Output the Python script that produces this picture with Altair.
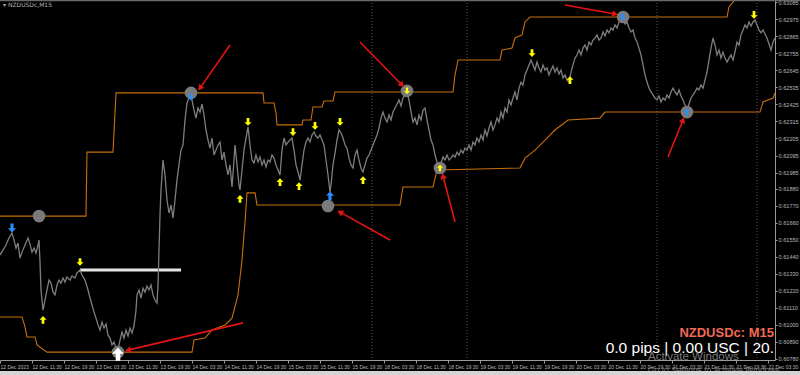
import altair as alt
import pandas as pd
import numpy as np

# ---------------- data ----------------
time_labels = ["12 Dec 2023", "12 Dec 11:30", "12 Dec 19:30", "13 Dec 03:30", "13 Dec 11:30",
               "13 Dec 19:30", "14 Dec 03:30", "14 Dec 11:30", "14 Dec 19:30", "15 Dec 03:30",
               "15 Dec 11:30", "15 Dec 19:30", "18 Dec 03:30", "18 Dec 11:30", "18 Dec 19:30",
               "19 Dec 03:30", "19 Dec 11:30", "19 Dec 19:30", "20 Dec 03:30", "20 Dec 11:30",
               "20 Dec 19:30", "21 Dec 03:30", "21 Dec 11:30", "21 Dec 19:30", "22 Dec 03:30"]
time_ticks = [32 * i for i in range(len(time_labels))]

price_ticks = [0.63085, 0.62975, 0.62865, 0.62755, 0.62645, 0.62535, 0.62425, 0.62315, 0.62205,
               0.62095, 0.61985, 0.61880, 0.61770, 0.61660, 0.61550, 0.61440, 0.61330, 0.61220,
               0.61110, 0.61000, 0.60890, 0.60780]

# close price per bar (bar index, price)
price_points = [
    (0, 0.61451), (3, 0.61483), (6, 0.61516), (9, 0.61561), (12, 0.61594), (14, 0.61548), (16, 0.61496),
    (18, 0.61529), (20, 0.61431), (22, 0.61470), (25, 0.61516), (28, 0.61561), (30, 0.61522), (32, 0.61470),
    (34, 0.61496), (36, 0.61464), (38, 0.61516), (39, 0.61548),
    (40, 0.61406), (41, 0.61225), (42, 0.61160), (43, 0.61095), (45, 0.61160), (47, 0.61225), (49, 0.61289),
    (51, 0.61270), (53, 0.61212), (55, 0.61193), (57, 0.61257), (59, 0.61289), (61, 0.61270), (63, 0.61302),
    (65, 0.61276), (67, 0.61309), (70, 0.61289), (72, 0.61315), (75, 0.61302), (77, 0.61335), (80, 0.61354),
    (82, 0.61322), (85, 0.61289), (88, 0.61225), (90, 0.61173), (92, 0.61128), (94, 0.61082), (96, 0.61043),
    (98, 0.60999), (100, 0.60966), (102, 0.61018), (104, 0.60979), (106, 0.61005), (108, 0.60934),
    (110, 0.60914), (112, 0.60869), (114, 0.60888), (116, 0.60849), (118, 0.60836), (120, 0.60901),
    (122, 0.60953), (124, 0.60914), (126, 0.60966), (128, 0.60927), (130, 0.60979), (132, 0.60947),
    (134, 0.60992), (136, 0.61095), (137, 0.61193), (139, 0.61225), (141, 0.61173), (143, 0.61237),
    (145, 0.61212), (147, 0.61250), (149, 0.61225), (151, 0.61257), (153, 0.61193), (155, 0.61160),
    (157, 0.61141), (158, 0.61257), (159, 0.61483), (160, 0.61710), (161, 0.61872), (163, 0.62066),
    (165, 0.61969), (167, 0.61807), (169, 0.61723), (171, 0.61775), (173, 0.61690), (175, 0.61807),
    (177, 0.61936), (179, 0.62034), (181, 0.62130), (183, 0.62163), (185, 0.62325), (187, 0.62435),
    (189, 0.62467), (190, 0.62500), (192, 0.62454), (194, 0.62389), (196, 0.62337), (198, 0.62402),
    (200, 0.62376), (202, 0.62428), (204, 0.62357), (206, 0.62260), (208, 0.62195), (210, 0.62143),
    (212, 0.62208), (214, 0.62098), (216, 0.62130), (218, 0.62163), (220, 0.62182), (222, 0.62066),
    (224, 0.62117), (226, 0.62034), (228, 0.61969), (230, 0.62034), (232, 0.61891), (234, 0.62066),
    (235, 0.62163), (237, 0.62034), (239, 0.61904), (240, 0.61872), (242, 0.62001), (244, 0.62130),
    (246, 0.62208), (248, 0.62280), (250, 0.62163), (252, 0.62066), (254, 0.62047), (256, 0.62098),
    (258, 0.62053), (260, 0.62085), (262, 0.62034), (264, 0.62066), (266, 0.62021), (268, 0.62066),
    (270, 0.62053), (272, 0.62098), (274, 0.62078), (276, 0.62034), (278, 0.62001), (280, 0.61969),
    (282, 0.62130), (284, 0.62208), (286, 0.62163), (288, 0.62182), (290, 0.62195), (292, 0.62208),
    (294, 0.62130), (296, 0.62034), (298, 0.61988), (300, 0.61936), (302, 0.62034), (304, 0.62130),
    (306, 0.62182), (308, 0.62208), (310, 0.62182), (312, 0.62228), (314, 0.62247), (316, 0.62221),
    (318, 0.62208), (320, 0.62228), (322, 0.62195), (324, 0.62163), (326, 0.62066), (328, 0.61969),
    (330, 0.61859), (331, 0.61904), (333, 0.62034), (335, 0.62111), (337, 0.62195), (339, 0.62260),
    (341, 0.62241), (343, 0.62208), (345, 0.62163), (347, 0.62143), (349, 0.62078), (351, 0.62034),
    (353, 0.62014), (355, 0.62098), (357, 0.62130), (359, 0.62066), (361, 0.62014), (363, 0.61988),
    (365, 0.62034), (367, 0.62078), (369, 0.62098), (371, 0.62130), (373, 0.62163), (375, 0.62195),
    (377, 0.62228), (379, 0.62273), (381, 0.62337), (383, 0.62376), (385, 0.62337), (387, 0.62312),
    (389, 0.62357), (391, 0.62325), (393, 0.62376), (395, 0.62402), (397, 0.62428), (399, 0.62454),
    (401, 0.62415), (403, 0.62467), (405, 0.62487), (407, 0.62506), (409, 0.62454), (411, 0.62376),
    (413, 0.62312), (415, 0.62337), (417, 0.62293), (419, 0.62357), (421, 0.62325), (423, 0.62389),
    (425, 0.62402), (427, 0.62325), (429, 0.62260), (431, 0.62195), (433, 0.62163), (435, 0.62098),
    (437, 0.62053), (439, 0.62014), (441, 0.62047), (443, 0.62085), (445, 0.62066), (447, 0.62098),
    (449, 0.62066), (451, 0.62078), (453, 0.62098), (455, 0.62085), (457, 0.62117), (459, 0.62098),
    (461, 0.62130), (463, 0.62111), (465, 0.62143), (467, 0.62130), (469, 0.62163), (471, 0.62130),
    (473, 0.62182), (475, 0.62163), (477, 0.62208), (479, 0.62182), (481, 0.62228), (483, 0.62195),
    (485, 0.62260), (487, 0.62221), (489, 0.62273), (491, 0.62312), (493, 0.62260), (495, 0.62293),
    (497, 0.62337), (499, 0.62312), (501, 0.62376), (503, 0.62337), (505, 0.62402), (507, 0.62376),
    (509, 0.62454), (511, 0.62422), (513, 0.62467), (515, 0.62506), (517, 0.62454), (519, 0.62531),
    (521, 0.62570), (523, 0.62551), (525, 0.62616), (527, 0.62648), (529, 0.62681), (531, 0.62713),
    (533, 0.62681), (535, 0.62648), (537, 0.62700), (539, 0.62661), (541, 0.62635), (543, 0.62681),
    (545, 0.62648), (547, 0.62661), (549, 0.62616), (551, 0.62648), (553, 0.62674), (555, 0.62635),
    (557, 0.62661), (559, 0.62622), (561, 0.62648), (563, 0.62596), (565, 0.62616), (567, 0.62583),
    (569, 0.62570), (571, 0.62635), (573, 0.62681), (575, 0.62725), (577, 0.62745), (579, 0.62777),
    (581, 0.62745), (583, 0.62790), (585, 0.62810), (587, 0.62777), (589, 0.62829), (591, 0.62810),
    (593, 0.62842), (595, 0.62855), (597, 0.62875), (599, 0.62842), (601, 0.62855), (603, 0.62894),
    (605, 0.62868), (607, 0.62907), (609, 0.62888), (611, 0.62920), (613, 0.62907), (615, 0.62940),
    (617, 0.62920), (619, 0.62959), (621, 0.62984), (623, 0.62972), (625, 0.62946), (627, 0.62959),
    (629, 0.62920), (631, 0.62894), (633, 0.62907), (635, 0.62855), (637, 0.62829), (639, 0.62790),
    (641, 0.62745), (643, 0.62681), (645, 0.62616), (647, 0.62570), (649, 0.62531), (651, 0.62506),
    (653, 0.62487), (655, 0.62467), (657, 0.62454), (659, 0.62480), (661, 0.62441), (663, 0.62467),
    (665, 0.62454), (667, 0.62487), (669, 0.62467), (671, 0.62506), (673, 0.62531), (675, 0.62506),
    (677, 0.62487), (679, 0.62519), (681, 0.62480), (683, 0.62454), (685, 0.62422), (687, 0.62389),
    (689, 0.62428), (691, 0.62467), (693, 0.62487), (695, 0.62506), (697, 0.62531), (699, 0.62519),
    (701, 0.62551), (703, 0.62531), (705, 0.62583), (707, 0.62635), (709, 0.62713), (711, 0.62790),
    (713, 0.62855), (715, 0.62810), (717, 0.62745), (719, 0.62777), (721, 0.62725), (723, 0.62764),
    (725, 0.62725), (727, 0.62700), (729, 0.62725), (731, 0.62745), (733, 0.62713), (735, 0.62764),
    (737, 0.62829), (739, 0.62810), (741, 0.62875), (743, 0.62907), (745, 0.62940), (747, 0.62920),
    (749, 0.62959), (751, 0.62933), (753, 0.62959), (755, 0.62972), (757, 0.62940), (759, 0.62907),
    (761, 0.62888), (763, 0.62907), (765, 0.62881), (767, 0.62855), (769, 0.62816), (771, 0.62777),
    (773, 0.62829), (775, 0.62855),
]
bar_x = [p[0] for p in price_points]
close = [p[1] for p in price_points]

# channel lines (orange)
upper_x = [0, 86, 87, 113, 116, 263, 264, 274, 276, 277, 302, 303, 311, 313, 322, 324, 333, 335,
           453, 455, 458, 500, 502, 512, 515, 522, 525, 530, 727, 729, 735]
upper_p = [0.61703, 0.61703, 0.62117, 0.62117, 0.62500, 0.62500, 0.62435, 0.62435, 0.62370, 0.62293,
           0.62293, 0.62325, 0.62325, 0.62409, 0.62409, 0.62448, 0.62448, 0.62506, 0.62506, 0.62616,
           0.62713, 0.62713, 0.62777, 0.62790, 0.62855, 0.62875, 0.62959, 0.62991, 0.62991, 0.63056,
           0.63101]
lower_x = [0, 22, 25, 27, 35, 37, 47, 192, 194, 205, 212, 225, 232, 238, 242, 245, 247, 255, 257,
           400, 403, 433, 437, 520, 525, 535, 545, 555, 568, 600, 605, 760, 763, 773, 775]
lower_p = [0.61050, 0.61050, 0.60986, 0.60921, 0.60921, 0.60869, 0.60823, 0.60823, 0.60901, 0.60914,
           0.60966, 0.60999, 0.61043, 0.61193, 0.61419, 0.61665, 0.61853, 0.61853, 0.61775, 0.61775,
           0.61891, 0.61891, 0.62001, 0.62014, 0.62078, 0.62130, 0.62195, 0.62260, 0.62325, 0.62337,
           0.62376, 0.62376, 0.62441, 0.62467, 0.62500]

# signal markers
circle_x = [39, 191, 328, 407, 440, 623, 687, 118]
circle_p = [0.61703, 0.62500, 0.61768, 0.62513, 0.62014, 0.62991, 0.62376, 0.60823]
blue_down_x = [12]
blue_down_p = [0.61626]
blue_down_in_x = [191, 623]
blue_down_in_p = [0.62474, 0.62991]
blue_up_x = [330]
blue_up_p = [0.61833]
blue_up_in_x = [687]
blue_up_in_p = [0.62376]
yellow_down_x = [80, 248, 293, 315, 340, 532, 754]
yellow_down_p = [0.61406, 0.62312, 0.62247, 0.62286, 0.62312, 0.62758, 0.63004]
yellow_down_in_x = [407]
yellow_down_in_p = [0.62513]
yellow_up_x = [43, 240, 280, 299, 363, 570]
yellow_up_p = [0.61031, 0.61814, 0.61923, 0.61897, 0.61936, 0.62583]
yellow_up_in_x = [440]
yellow_up_in_p = [0.62014]
white_up_x = [118]
white_up_p = [0.60810]

# white level line
level_x1, level_x2, level_p = [80], [181], [0.61354]

# red annotation arrows (start -> end)
red_x1 = [230, 360, 390, 455, 243, 565, 668]
red_p1 = [0.62810, 0.62829, 0.61548, 0.61665, 0.61012, 0.63069, 0.62085]
red_x2 = [200, 402, 340, 443, 128, 615, 683]
red_p2 = [0.62531, 0.62551, 0.61729, 0.61962, 0.60836, 0.63010, 0.62325]

# period separators
sep_x = [372, 467, 657, 757]

# ---------------- layout ----------------
W, H = 775, 360
x_dom = [0, 775]
y_dom = [0.60772, 0.63101]
px_per_price = H / (y_dom[1] - y_dom[0])

AX_FONT = "Liberation Sans"
label_arr = "[" + ",".join("'" + s + "'" for s in time_labels) + "]"

xscale = alt.Scale(domain=x_dom, nice=False, zero=False)
yscale = alt.Scale(domain=y_dom, nice=False, zero=False)
xaxis = alt.Axis(orient="bottom", values=time_ticks, labelExpr=label_arr + "[round(datum.value/32)]",
                 labelAlign="left", labelFont=AX_FONT, labelFontSize=5, labelColor="#b8b8b8",
                 labelPadding=1, labelOverlap=False, labelFlush=False, tickSize=3,
                 tickColor="#9a9a9a", domainColor="#9a9a9a", grid=False, title=None)
yaxis = alt.Axis(orient="right", values=price_ticks, format=".5f", labelFont=AX_FONT,
                 labelFontSize=5.6, labelColor="#b8b8b8", labelPadding=1, tickSize=2,
                 tickColor="#9a9a9a", domainColor="#9a9a9a", grid=False, title=None,
                 labelOverlap=False, labelFlush=False)


def X(f="x"):
    return alt.X(f + ":Q", scale=xscale, axis=xaxis)


def Y(f="p"):
    return alt.Y(f + ":Q", scale=yscale, axis=yaxis)


UP = "M0,-1L0.9,-0.05L0.35,-0.05L0.35,1L-0.35,1L-0.35,-0.05L-0.9,-0.05Z"
DOWN = "M0,1L0.9,0.05L0.35,0.05L0.35,-1L-0.35,-1L-0.35,0.05L-0.9,0.05Z"

price_df = pd.DataFrame({"x": bar_x, "p": close, "i": range(len(bar_x))})
upper_df = pd.DataFrame({"x": upper_x, "p": upper_p, "i": range(len(upper_x))})
lower_df = pd.DataFrame({"x": lower_x, "p": lower_p, "i": range(len(lower_x))})

sep = alt.Chart(pd.DataFrame({"x": sep_x})).mark_rule(
    color="#555555", strokeDash=[1, 2], strokeWidth=1).encode(x=X())

upper = alt.Chart(upper_df).mark_line(color="#c8700c", strokeWidth=1.1, clip=True).encode(
    x=X(), y=Y(), order="i:Q")
lower = alt.Chart(lower_df).mark_line(color="#c8700c", strokeWidth=1.1, clip=True).encode(
    x=X(), y=Y(), order="i:Q")

level = alt.Chart(pd.DataFrame({"x": level_x1, "x2": level_x2, "p": level_p})).mark_rule(
    color="#e6e6e6", strokeWidth=3).encode(x=X(), x2="x2:Q", y=Y())

line = alt.Chart(price_df).mark_line(color="#7e7e7e", strokeWidth=1.3).encode(
    x=X(), y=Y(), order="i:Q")

circles = alt.Chart(pd.DataFrame({"x": circle_x, "p": circle_p})).mark_point(
    shape="circle", filled=True, color="#7a7a7a", opacity=1, size=160).encode(x=X(), y=Y())


def arrows(xs, ps, shape, color, size):
    return alt.Chart(pd.DataFrame({"x": xs, "p": ps})).mark_point(
        shape=shape, filled=True, color=color, opacity=1, size=size).encode(x=X(), y=Y())


yd = arrows(yellow_down_x, yellow_down_p, DOWN, "#ffff00", 60)
yd_in = arrows(yellow_down_in_x, yellow_down_in_p, DOWN, "#ffff00", 45)
yu = arrows(yellow_up_x, yellow_up_p, UP, "#ffff00", 60)
yu_in = arrows(yellow_up_in_x, yellow_up_in_p, UP, "#ffff00", 45)
bd = arrows(blue_down_x, blue_down_p, DOWN, "#2a8cff", 80)
bd_in = arrows(blue_down_in_x, blue_down_in_p, DOWN, "#2a8cff", 50)
bu = arrows(blue_up_x, blue_up_p, UP, "#2a8cff", 80)
bu_in = arrows(blue_up_in_x, blue_up_in_p, UP, "#2a8cff", 50)
wu = arrows(white_up_x, white_up_p, UP, "#ffffff", 170)

red_df = pd.DataFrame({"x": red_x1, "p": red_p1, "x2": red_x2, "p2": red_p2})
dx = np.array(red_x2) - np.array(red_x1)
dy = (np.array(red_p2) - np.array(red_p1)) * px_per_price
red_df["ang"] = np.mod(np.degrees(np.arctan2(dx, dy)), 360)

red_lines = alt.Chart(red_df).mark_rule(color="#e31414", strokeWidth=1.6).encode(
    x=X(), y=Y(), x2="x2:Q", y2="p2:Q")
red_heads = alt.Chart(red_df).mark_point(shape="triangle-up", filled=True, color="#e31414",
                                         opacity=1, size=45).encode(
    x=X("x2"), y=Y("p2"), angle=alt.Angle("ang:Q", scale=None))

# ---------------- texts / chrome ----------------
title_txt = alt.Chart(pd.DataFrame({"t": ["\u25BE NZDUSDc,M15"]})).mark_text(
    align="left", baseline="middle", font="DejaVu Sans", fontSize=6, color="#b0b0b0").encode(
    x=alt.value(3), y=alt.value(5), text="t:N")
sym_txt = alt.Chart(pd.DataFrame({"t": ["NZDUSDc: M15"]})).mark_text(
    align="right", baseline="alphabetic", font="Liberation Sans", fontSize=13, fontWeight="bold",
    color="#f26a55").encode(x=alt.value(774), y=alt.value(337), text="t:N")
pips_txt = alt.Chart(pd.DataFrame({"t": ["0.0 pips | 0.00 USC | 20."]})).mark_text(
    align="right", baseline="alphabetic", font="Liberation Sans", fontSize=15.5,
    color="#ffffff").encode(x=alt.value(774), y=alt.value(353), text="t:N")
act1 = alt.Chart(pd.DataFrame({"t": ["Activate Windows"]})).mark_text(
    align="left", baseline="middle", font="Liberation Sans", fontSize=11.5,
    color="#7a7a7a").encode(x=alt.value(648), y=alt.value(357), text="t:N")
act2 = alt.Chart(pd.DataFrame({"t": ["Go to Settings to activate Windows."]})).mark_text(
    align="left", baseline="middle", font="Liberation Sans", fontSize=8.5,
    color="#7a7a7a").encode(x=alt.value(648), y=alt.value(370), text="t:N")
top_rule = alt.Chart(pd.DataFrame({"a": [0]})).mark_rule(color="#6a6a6a", strokeWidth=1.5).encode(
    x=alt.value(0), x2=alt.value(800), y=alt.value(0.5))
strip = alt.Chart(pd.DataFrame({"a": [0]})).mark_rect(color="#d4d4d4").encode(
    x=alt.value(0), x2=alt.value(800), y=alt.value(371), y2=alt.value(375))

chart = alt.layer(
    sep, upper, lower, level, line, circles, yd, yd_in, yu, yu_in, bd, bd_in, bu, bu_in, wu,
    red_lines, red_heads, title_txt, sym_txt, pips_txt, act1, act2, top_rule, strip
).properties(
    width=W, height=H, autosize=alt.AutoSizeParams(type="none"),
    padding={"left": 0, "top": 0, "right": 25, "bottom": 15},
    background="#000000"
).configure_view(stroke=None, fill="#000000")

chart.save("out.html", embed_options={"renderer": "svg", "actions": False})
